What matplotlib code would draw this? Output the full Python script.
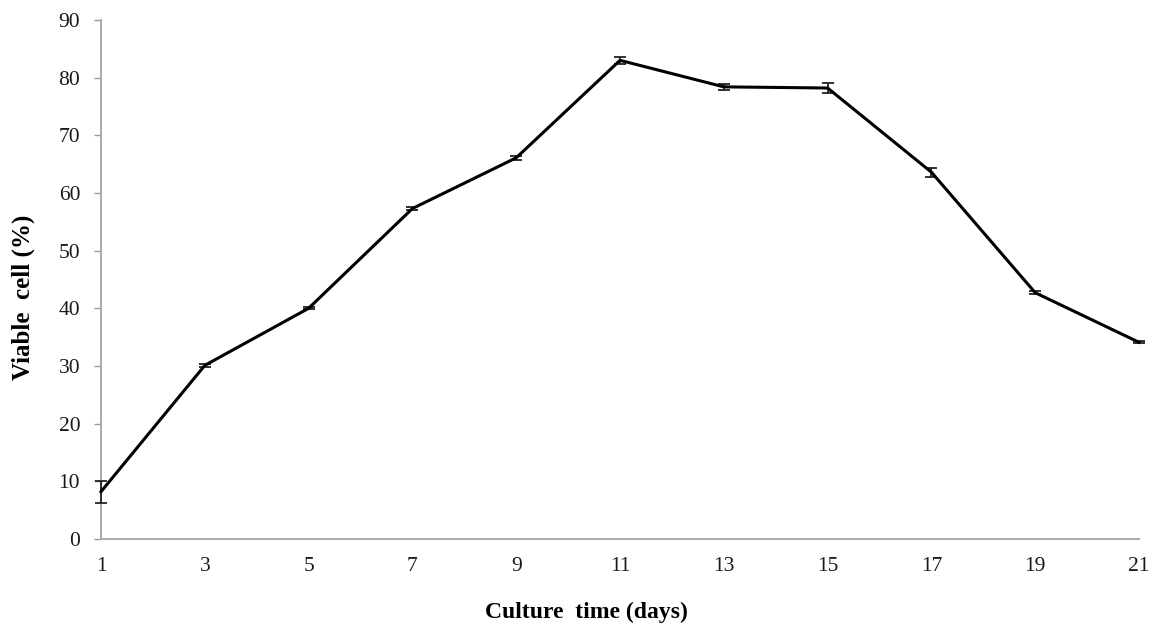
import matplotlib
matplotlib.use('Agg')
import matplotlib.pyplot as plt

days = [1, 3, 5, 7, 9, 11, 13, 15, 17, 19, 21]
viable = [8.2, 30.1, 40.0, 57.3, 66.1, 83.0, 78.4, 78.2, 63.6, 42.7, 34.1]
err = [1.9, 0.2, 0.2, 0.3, 0.3, 0.6, 0.5, 0.8, 0.8, 0.3, 0.2]
yticks = list(range(0, 91, 10))

plt.rcParams['font.family'] = ['Liberation Serif', 'DejaVu Serif']

fig = plt.figure(figsize=(11.53, 6.32), dpi=100)
ax = fig.add_axes([0.0876, 0.1472, 0.9003, 0.8212])

line = ax.errorbar(days, viable, yerr=err, color='black', lw=2.2, capsize=4,
                   elinewidth=1.3, capthick=1.3, ecolor='#222222', zorder=5)
for artist in line.lines[1] + line.lines[2]:
    artist.set_clip_on(False)
line.lines[0].set_clip_on(False)

ax.set_xlim(days[0], days[-1])
ax.set_ylim(0, 90)
ax.set_xticks(days)
ax.set_yticks(yticks)
ax.tick_params(labelsize=15.5, labelcolor='#1a1a1a', color='#999999', width=1)
ax.tick_params(axis='x', length=0, pad=13)
ax.tick_params(axis='y', length=5, pad=10)

for side in ['top', 'right']:
    ax.spines[side].set_visible(False)
for side in ['left', 'bottom']:
    ax.spines[side].set_color('#aaaaaa')
    ax.spines[side].set_linewidth(1.4)

ax.set_xlabel('Culture  time (days)', fontsize=17, fontweight='bold')
ax.set_ylabel('Viable  cell (%)', fontsize=18, fontweight='bold')
ax.xaxis.set_label_coords(0.468, -0.121)
ax.yaxis.set_label_coords(-0.064, 0.465)

fig.savefig('out.png', dpi=100)
